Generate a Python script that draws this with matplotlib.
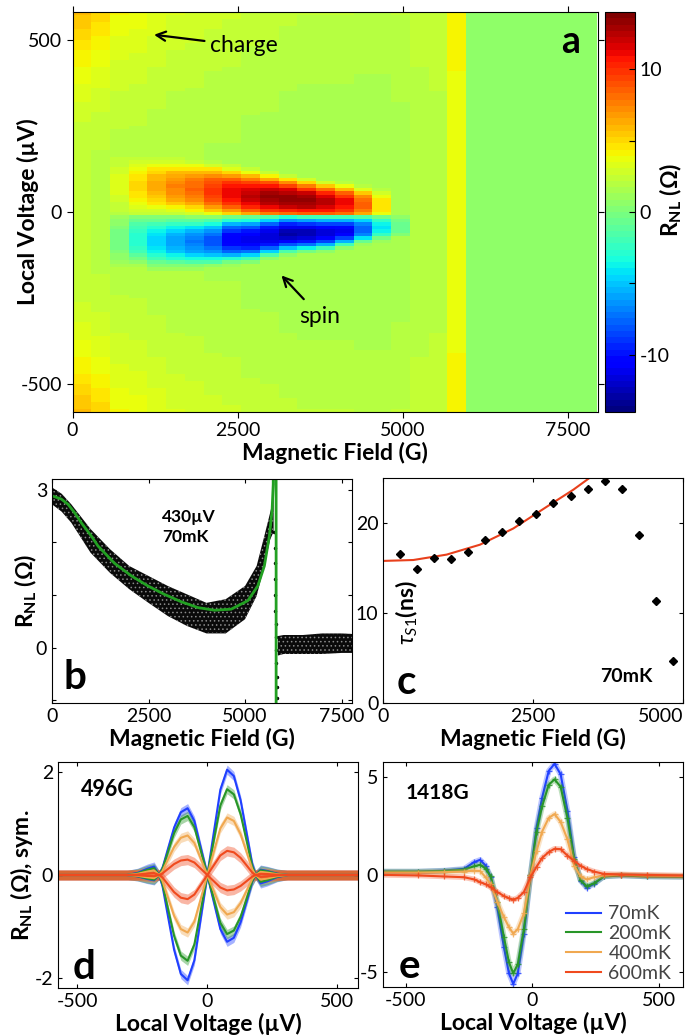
import numpy as np
import matplotlib
matplotlib.use('Agg')
import matplotlib.pyplot as plt

plt.rcParams['font.family'] = ['Lato', 'DejaVu Sans']
plt.rcParams['axes.unicode_minus'] = False
plt.rcParams['mathtext.fontset'] = 'custom'
plt.rcParams['mathtext.rm'] = 'Lato'
plt.rcParams['mathtext.it'] = 'Lato:italic'
plt.rcParams['mathtext.bf'] = 'Lato:bold'
plt.rcParams['hatch.linewidth'] = 0.6

# ---------------- panel a: colour map, one entry per field column (284 G wide)
col_step = 284.0
bg = [2.2, 2.1, 2.0, 2.0, 1.9, 1.8, 1.8, 1.7, 1.7, 1.6, 1.6, 1.5, 1.5, 1.5,
      1.5, 1.5, 1.5, 1.6, 1.9, 2.0, 3.8, 0.8, 0.7, 0.7, 0.8, 0.7, 0.7, 0.7]
charge_amp = [3.6, 3.0, 2.0, 1.8, 1.5, 1.3, 1.2, 1.1, 1.0, 0.9, 0.8, 0.8, 0.7, 0.7,
              0.7, 0.6, 0.6, 0.6, 0.6, 0.6, 0.3, 0, 0, 0, 0, 0, 0, 0]
pos_amp = [0, 0, 1.2, 3.0, 4.4, 5.7, 6.6, 8.2, 9.6, 10.8, 11.7, 12.1, 11.9, 11.0,
           9.8, 7.2, 3.3, 0, 0, 0, 0, 0, 0, 0, 0, 0, 0, 0]
neg_amp = [0, 0, -2.4, -5.0, -6.6, -7.8, -8.9, -10.0, -12.5, -13.0, -13.6, -14.4, -14.2, -13.5,
           -12.5, -9.5, -5.5, -2.5, 0, 0, 0, 0, 0, 0, 0, 0, 0, 0]
pos_c = [80, 80, 80, 74, 76, 72, 68, 62, 55, 48, 43, 38, 33, 29,
         26, 23, 20, 20, 20, 20, 20, 20, 20, 20, 20, 20, 20, 20]
pos_w = [62, 62, 62, 62, 62, 61, 60, 60, 58, 57, 54, 51, 48, 45,
         42, 38, 35, 35, 35, 35, 35, 35, 35, 35, 35, 35, 35, 35]
neg_c = [-80, -80, -80, -78, -85, -86, -87, -85, -80, -78, -70, -63, -62, -60,
         -55, -49, -45, -42, -42, -42, -42, -42, -42, -42, -42, -42, -42, -42]
neg_w = [60, 60, 60, 62, 62, 60, 58, 56, 54, 52, 48, 45, 42, 40,
         36, 32, 28, 26, 26, 26, 26, 26, 26, 26, 26, 26, 26, 26]
split_v = -14
lobe_u = [0, 0.25, 0.5, 0.75, 1.0, 1.25, 1.5]
lobe_s = [1.0, 0.96, 0.85, 0.65, 0.38, 0.12, 0.0]
charge_v = [0, 150, 250, 350, 450, 520, 580]
charge_s = [0, 0, 0.1, 0.3, 0.55, 0.8, 1.0]

# ---------------- panel b: 430 uV, 70 mK
b_field = [0, 250, 500, 1000, 1500, 2000, 2500, 3000, 3500, 4000, 4500, 5000, 5300, 5500, 5650, 5740]
b_low = [2.72, 2.58, 2.37, 1.80, 1.42, 1.11, 0.85, 0.60, 0.41, 0.27, 0.27, 0.54, 0.98, 1.55, 2.05, 2.2]
b_high = [3.04, 2.92, 2.72, 2.25, 1.87, 1.55, 1.36, 1.17, 1.01, 0.85, 0.92, 1.17, 1.55, 2.12, 2.56, 2.85]
b2_field = [5850, 6000, 6500, 7000, 7500, 7770]
b2_low = [-0.15, -0.12, -0.12, -0.12, -0.1, -0.1]
b2_high = [0.22, 0.24, 0.24, 0.27, 0.27, 0.26]
jump_B = [5760, 5765, 5770, 5775, 5780, 5785, 5790, 5795, 5800, 5810, 5820, 5830, 5840]
jump_R = [2.2, 1.9, 1.6, 1.3, 1.0, 0.7, 0.45, 0.2, -0.05, -0.3, -0.55, -0.75, -0.95]
fitb_B = [0, 240, 414, 586, 759, 1017, 1190, 1620, 2060, 2485, 2915, 3350, 3780, 4210,
          4640, 5070, 5330, 5500, 5630, 5700, 5730, 5750, 5800, 5810]
fitb_R = [2.88, 2.82, 2.72, 2.56, 2.37, 2.12, 1.93, 1.60, 1.36, 1.17, 1.01, 0.87, 0.76, 0.71,
          0.73, 0.89, 1.17, 1.55, 2.12, 2.6, 3.1, 50, 50, -50]

# ---------------- panel c: spin lifetime
c_field = [278, 567, 845, 1128, 1417, 1700, 1983, 2267, 2544, 2833, 3122, 3406, 3694,
           3978, 4256, 4539, 4822]
c_tau = [16.6, 14.85, 16.1, 16.0, 16.8, 18.1, 19.0, 20.2, 20.96, 22.2, 23.0, 23.8, 24.7,
         23.8, 18.7, 11.4, 4.7]
fitc_B = [0, 500, 1056, 1611, 2167, 2722, 3167, 3456]
fitc_tau = [15.8, 15.9, 16.5, 17.6, 19.4, 21.8, 23.7, 25.1]

# ---------------- panel d: 496 G, odd shape (V >= 0) and amplitudes per temperature
temps = ['70mK', '200mK', '400mK', '600mK']
colors = ['#2040ff', '#289628', '#f0a850', '#f04a1e']
d_v = [0, 24, 50, 76, 102, 128, 154, 173, 186, 205, 231, 269, 310, 600]
d_shape = [0, 0.39, 0.81, 1.0, 0.94, 0.71, 0.36, 0.10, 0, -0.08, -0.06, -0.02, 0, 0]
d_big = [2.05, 1.67, 1.12, 0.47]
d_small = [1.30, 1.15, 0.77, 0.30]
d_noise = [0.09, 0.09, 0.09, 0.1]

# ---------------- panel e: 1418 G
e_v = [-600, -450, -350, -270, -231, -207, -185, -165, -139, -113, -93, -76, -58, -34, -8,
       16, 38, 64, 87, 111, 138, 164, 190, 214, 243, 282, 350, 450, 600]
e_70 = [0.15, 0.15, 0.2, 0.29, 0.63, 0.75, 0.46, -0.14, -1.67, -3.71, -5.07, -5.61, -5.07, -3.03, -0.05,
        2.41, 3.94, 5.31, 5.68, 5.14, 3.27, 0.88, -0.31, -0.68, -0.48, -0.1, -0.05, -0.1, -0.12]
e_200 = [0.15, 0.15, 0.18, 0.25, 0.42, 0.5, 0.3, -0.1, -1.4, -3.2, -4.5, -5.07, -4.6, -2.8, -0.05,
         2.2, 3.5, 4.6, 4.88, 4.5, 2.9, 0.8, -0.3, -0.6, -0.45, -0.1, -0.05, -0.1, -0.12]
e_400 = [0.1, 0.1, 0.12, 0.15, 0.2, 0.18, -0.14, -0.5, -1.4, -2.18, -2.7, -3.03, -2.8, -2.0, -0.05,
         1.2, 2.2, 2.9, 3.1, 2.7, 1.8, 0.46, -0.1, -0.25, -0.14, -0.05, 0, -0.05, -0.08]
e_600 = [-0.02, -0.05, -0.1, -0.14, -0.25, -0.39, -0.5, -0.65, -0.9, -1.1, -1.22, -1.29, -1.2, -0.9, -0.14,
         0.4, 0.85, 1.15, 1.32, 1.3, 0.97, 0.7, 0.45, 0.28, 0.15, 0.03, 0, -0.02, -0.05]
e_curves = [e_70, e_200, e_400, e_600]

W, H = 686, 1036
fig = plt.figure(figsize=(W / 100, H / 100), dpi=100)


def box(l, t, r, b):
    return [l / W, 1 - b / H, (r - l) / W, (b - t) / H]


tick_fs = 14
lab_fs = 16.5
rnl = r'$\mathbf{R_{NL}}$ (Ω)'

# ---- a
ax = fig.add_axes(box(72.5, 12, 598, 412))
cax = fig.add_axes(box(605, 12, 635, 412))
n_col = len(bg)
field_edges = np.arange(n_col + 1) * col_step
volt_edges = np.arange(-580, 581, 10)
vc = 0.5 * (volt_edges[:-1] + volt_edges[1:])
Z = np.zeros((vc.size, n_col))
for j in range(n_col):
    up = np.interp(np.abs(vc - pos_c[j]) / pos_w[j], lobe_u, lobe_s)
    dn = np.interp(np.abs(vc - neg_c[j]) / neg_w[j], lobe_u, lobe_s)
    Z[:, j] = (bg[j] + charge_amp[j] * np.interp(np.abs(vc), charge_v, charge_s)
               + np.where(vc > split_v, pos_amp[j] * up, neg_amp[j] * dn))
jet = plt.get_cmap('jet', 64)
mesh = ax.pcolormesh(field_edges, volt_edges, Z, cmap=jet, vmin=-14, vmax=14)
ax.set_xlim(0, 7960)
ax.set_ylim(-580, 580)
ax.set_xticks([0, 2500, 5000, 7500])
ax.set_yticks([-500, 0, 500])
ax.tick_params(direction='out', top=True, right=True, labelsize=tick_fs, length=4)
ax.set_xlabel('Magnetic Field (G)', fontsize=lab_fs, fontweight='bold', labelpad=2)
ax.set_ylabel('Local Voltage (µV)', fontsize=lab_fs, fontweight='bold')
ax.yaxis.set_label_coords(-0.064, 0.5)
ax.annotate('charge', xy=(1235, 514), xytext=(2083, 482), fontsize=16.5, va='center',
            arrowprops=dict(arrowstyle='->', lw=1.6, color='k', shrinkA=2, shrinkB=0))
ax.annotate('spin', xy=(3165, -184), xytext=(3750, -303), fontsize=16.5, va='center', ha='center',
            arrowprops=dict(arrowstyle='->', lw=1.6, color='k', shrinkA=4, shrinkB=0))
ax.text(7550, 494, 'a', fontsize=27, fontweight='bold', ha='center', va='center')

cb = fig.colorbar(mesh, cax=cax, ticks=[-10, -5, 0, 5, 10])
cax.set_yticklabels(['-10', '', '0', '', '10'])
cax.tick_params(direction='in', labelsize=tick_fs, length=4)
cb.outline.set_linewidth(0.8)
cax.set_ylabel(rnl, fontsize=lab_fs, fontweight='bold')
cax.yaxis.set_label_coords(1.77, 0.53)

# ---- b
axb = fig.add_axes(box(52, 479, 352, 703))
axb.fill_between(b_field, b_low, b_high, facecolor='#0a0a0a', edgecolor='#8a8a8a', hatch='....', lw=0)
axb.fill_between(b2_field, b2_low, b2_high, facecolor='#0a0a0a', edgecolor='#8a8a8a', hatch='....', lw=0)
axb.plot(jump_B, jump_R, 'k.', ms=3)
axb.plot(fitb_B, fitb_R, color='#22a022', lw=2)
axb.set_xlim(0, 7770)
axb.set_ylim(-1.05, 3.2)
axb.set_xticks([0, 2500, 5000, 7500])
axb.set_yticks([-1, 0, 1, 2, 3])
axb.set_yticklabels(['', '0', '', '', '3'])
axb.tick_params(direction='in', top=True, right=True, labelsize=tick_fs, length=3)
axb.set_xlabel('Magnetic Field (G)', fontsize=lab_fs, fontweight='bold', labelpad=2)
axb.set_ylabel(rnl, fontsize=lab_fs, fontweight='bold')
axb.yaxis.set_label_coords(-0.043, 0.5)
axb.text(2846, 2.63, '430µV\n70mK', fontsize=12.5, fontweight='bold', va='top', linespacing=1.3)
axb.text(595, -0.57, 'b', fontsize=29, fontweight='bold', ha='center', va='center')

# ---- c
axc = fig.add_axes(box(383.3, 478, 683.3, 703.3))
axc.plot(fitc_B, fitc_tau, color='#e8401c', lw=1.5)
axc.plot(c_field, c_tau, 'kD', ms=4.5)
axc.set_xlim(0, 5000)
axc.set_ylim(0, 25)
axc.set_xticks([0, 2500, 5000])
axc.set_yticks([0, 10, 20])
axc.tick_params(direction='in', top=True, right=True, labelsize=tick_fs, length=3)
axc.get_xticklabels()[-1].set_ha('right')
axc.set_xlabel('Magnetic Field (G)', fontsize=lab_fs, fontweight='bold', labelpad=2)
axc.text(400, 10, r'$\tau_{S1}$(ns)', fontsize=lab_fs, fontweight='bold', rotation=90,
         ha='center', va='center')
axc.text(3612, 3.0, '70mK', fontsize=14, fontweight='bold', va='center')
axc.text(378, 2.3, 'c', fontsize=29, fontweight='bold', ha='center', va='center')

# ---- d
axd = fig.add_axes(box(58, 762, 358, 988))
d_v_full = np.concatenate([-np.array(d_v[:0:-1]), d_v])
d_shape_full = np.concatenate([-np.array(d_shape[:0:-1]), d_shape])
for k in range(len(temps)):
    for amp in (d_big[k], -d_small[k]):
        y = amp * d_shape_full
        axd.fill_between(d_v_full, y - d_noise[k], y + d_noise[k], color=colors[k], alpha=0.4, lw=0)
        axd.plot(d_v_full, y, color=colors[k], lw=1.5)
axd.set_xlim(-575, 580)
axd.set_ylim(-2.2, 2.2)
axd.set_xticks([-500, 0, 500])
axd.set_yticks([-2, 0, 2])
axd.tick_params(direction='in', top=True, right=True, labelsize=tick_fs, length=3)
axd.set_xlabel('Local Voltage (µV)', fontsize=lab_fs, fontweight='bold', labelpad=2)
axd.set_ylabel(r'$\mathbf{R_{NL}}$ (Ω), sym.', fontsize=lab_fs, fontweight='bold')
axd.yaxis.set_label_coords(-0.077, 0.5)
axd.text(-488, 1.66, '496G', fontsize=15.5, fontweight='bold', va='center')
axd.text(-473, -1.8, 'd', fontsize=29, fontweight='bold', ha='center', va='center')

# ---- e
axe = fig.add_axes(box(383, 762, 683, 987))
for k in range(len(temps)):
    axe.plot(e_v, e_curves[k], color=colors[k], lw=4, alpha=0.3)
    axe.plot(e_v, e_curves[k], '+', color=colors[k], ms=5, mew=0.9, alpha=0.8)
    axe.plot(e_v, e_curves[k], color=colors[k], lw=1.5, label=temps[k])
axe.set_xlim(-590, 594)
axe.set_ylim(-5.77, 5.77)
axe.set_xticks([-500, 0, 500])
axe.set_yticks([-5, 0, 5])
axe.tick_params(direction='in', top=True, right=True, labelsize=tick_fs, length=3)
axe.set_xlabel('Local Voltage (µV)', fontsize=lab_fs, fontweight='bold', labelpad=2)
axe.text(-500, 4.18, '1418G', fontsize=15, fontweight='bold', va='center')
axe.text(-484, -4.74, 'e', fontsize=29, fontweight='bold', ha='center', va='center')
leg = axe.legend(loc='lower right', bbox_to_anchor=(1.0, -0.03), frameon=False, fontsize=14,
                 handlelength=1.8, labelspacing=0.15, handletextpad=0.4, borderaxespad=0.2)
for t in leg.get_texts():
    t.set_color('#444444')

fig.savefig('out.png', dpi=100)
